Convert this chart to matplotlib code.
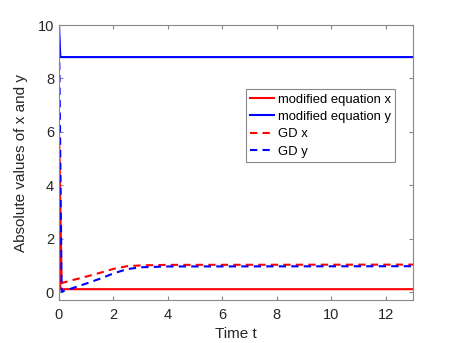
import numpy as np
import matplotlib
matplotlib.use("Agg")
import matplotlib.pyplot as plt

plt.rcParams["font.family"] = "Liberation Sans"

#Data
t_mod = [0, 0.05, 13]
mod_x = [6.0, 0.11, 0.11]
mod_y = [10.0, 8.8, 8.8]

t_gd = [0, 0.1, 0.5, 1.0, 1.5, 2.0, 2.5, 3.0, 4.0, 13]
gd_x = [6.0, 0.34, 0.45, 0.58, 0.72, 0.87, 0.97, 1.0, 1.02, 1.03]
gd_y = [10.0, 0.02, 0.15, 0.32, 0.5, 0.7, 0.86, 0.93, 0.96, 0.97]

fig = plt.figure(figsize=(4.57, 3.43), dpi=100)
ax = fig.add_axes([0.129, 0.125, 0.775, 0.802])

ax.plot(t_mod, mod_x, color="red", lw=1.5, label="modified equation x")
ax.plot(t_mod, mod_y, color="blue", lw=1.5, label="modified equation y")
ax.plot(t_gd, gd_x, color="red", lw=1.5, ls=(0, (3.5, 2.5)), label="GD x")
ax.plot(t_gd, gd_y, color="blue", lw=1.5, ls=(0, (3.5, 2.5)), label="GD y")

ax.set_xlim(0, 13)
ax.set_ylim(-0.3, 10)
ax.set_xticks(np.arange(0, 13, 2))
ax.set_yticks(np.arange(0, 11, 2))
ax.tick_params(direction="in", top=True, right=True, labelsize=10.5,
               color="#888888", length=3, labelcolor="#262626")
ax.tick_params(axis="x", pad=6)
for s in ax.spines.values():
    s.set_color("#888888")
    s.set_linewidth(0.8)

ax.set_xlabel("Time t", fontsize=11, color="#262626", labelpad=3)
ax.set_ylabel("Absolute values of x and y", fontsize=11, color="#262626", labelpad=7)

leg = ax.legend(loc="upper left", bbox_to_anchor=(0.527, 0.768), fontsize=9.4,
                fancybox=False, edgecolor="#888888", framealpha=1,
                handlelength=1.8, handletextpad=0.3, borderpad=0.35,
                labelspacing=0.4, borderaxespad=0)
leg.get_frame().set_linewidth(0.8)

fig.savefig("out.png", dpi=100)
